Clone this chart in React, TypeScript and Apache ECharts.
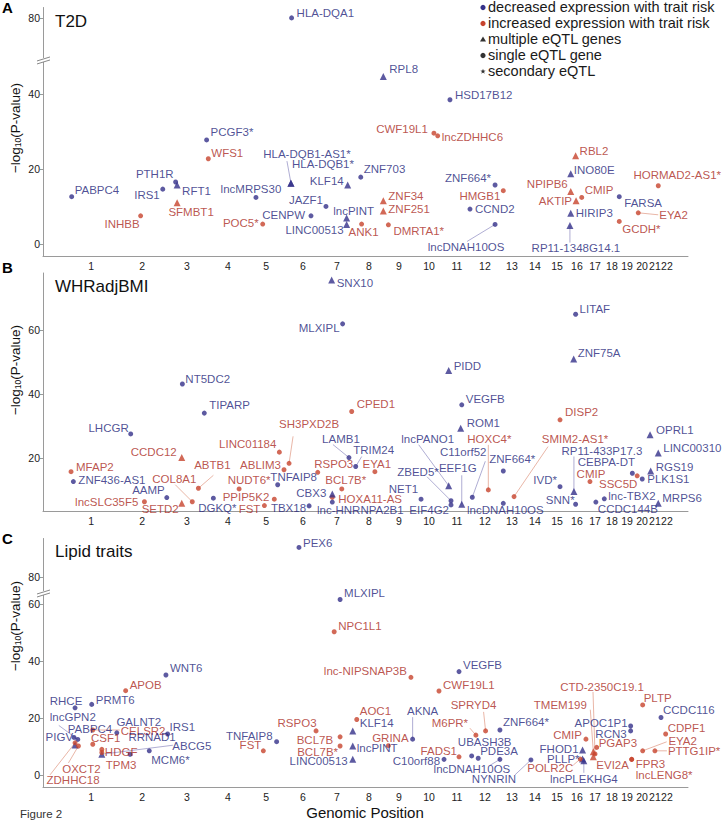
import { useEffect, useRef } from 'react';
import * as echarts from 'echarts';

// [gene, genomic position (cumulative Mb), -log10(P), increased expression (1) / decreased (0), multiple eQTL genes (1) / single (0)]
type Gene = [string, number, number, number, number];
// label placement: [anchor r|l|c, dx, dy, leader-line end dx, dy]
type Place = [string, number, number, number?, number?];

const chromosomes = ['1','2','3','4','5','6','7','8','9','10','11','12','13','14','15','16','17','18','19','20','21','22'];
const chromCenters = [125, 367, 580, 774, 955, 1130, 1291, 1443, 1585, 1728, 1860, 1993, 2121, 2230, 2335, 2429, 2515, 2595, 2667, 2738, 2799, 2856];

const t2dGenes: Gene[] = [
  ['HLA-DQA1', 1076, 80, 0, 0], ['RPL8', 1511, 44.6, 0, 1], ['HSD17B12', 1827, 38.4, 0, 0],
  ['PCGF3*', 673, 27.7, 0, 0], ['WFS1', 681, 22.7, 1, 0], ['CWF19L1', 1751, 29.5, 1, 0],
  ['lncZDHHC6', 1769, 28.8, 1, 0], ['PABPC4', 33, 12.6, 0, 0], ['IRS1', 465, 14.6, 0, 0],
  ['PTH1R', 526, 16.5, 0, 0], ['RFT1', 533, 15.7, 0, 1], ['SFMBT1', 533, 11.0, 1, 1],
  ['INHBB', 360, 7.5, 1, 0], ['lncMRPS30', 907, 12.4, 0, 0], ['POC5*', 939, 5.3, 1, 0],
  ['HLA-DQB1-AS1*', 1073, 16.2, 0, 1], ['HLA-DQB1*', 1073, 16.2, 0, 1], ['CENPW', 1168, 7.5, 0, 0],
  ['JAZF1', 1239, 10.0, 0, 0], ['KLF14', 1342, 15.7, 0, 1], ['lncPINT', 1337, 6.9, 0, 1],
  ['LINC00513', 1337, 5.2, 0, 1], ['ANK1', 1408, 5.3, 1, 0], ['ZNF703', 1404, 17.8, 0, 0],
  ['ZNF34', 1511, 11.5, 1, 1], ['ZNF251', 1511, 8.8, 1, 1], ['DMRTA1*', 1535, 5.1, 1, 0],
  ['ZNF664*', 2041, 15.7, 0, 0], ['HMGB1', 2080, 14.2, 1, 0], ['CCND2', 1922, 9.3, 0, 0],
  ['lncDNAH10OS', 2041, 5.2, 0, 0], ['RBL2', 2423, 23.5, 1, 1], ['INO80E', 2400, 18.7, 0, 1],
  ['NPIPB6', 2400, 14.0, 1, 1], ['AKTIP', 2425, 11.5, 1, 1], ['CMIP', 2452, 12.4, 1, 0],
  ['HIRIP3', 2400, 8.2, 0, 1], ['RP11-1348G14.1', 2396, 4.9, 0, 1], ['FARSA', 2630, 12.6, 0, 0],
  ['HORMAD2-AS1*', 2815, 15.5, 1, 0], ['EYA2', 2720, 8.3, 1, 0], ['GCDH*', 2630, 6.0, 1, 0],
];

const whrGenes: Gene[] = [
  ['SNX10', 1266, 75.6, 0, 1], ['MLXIPL', 1318, 61.9, 0, 0], ['NT5DC2', 558, 43.1, 0, 0],
  ['LITAF', 2423, 64.9, 0, 0], ['ZNF75A', 2414, 50.9, 0, 1], ['PIDD', 1821, 47.3, 0, 1],
  ['TIPARP', 662, 34.0, 0, 0], ['LHCGR', 313, 27.5, 0, 0], ['CPED1', 1361, 34.5, 1, 0],
  ['CCDC12', 555, 20.1, 1, 1], ['SH3PXD2B', 1064, 18.3, 1, 0], ['LINC01184', 1018, 21.8, 1, 0],
  ['ABLIM3', 1040, 16.3, 1, 0], ['TNFAIP8', 1010, 11.6, 0, 0], ['RSPO3', 1200, 15.5, 1, 0],
  ['LAMB1', 1348, 20.1, 0, 0], ['TRIM24', 1380, 17.3, 0, 0], ['EYA1', 1471, 15.7, 1, 0],
  ['BCL7B*', 1314, 10.3, 1, 0], ['HOXA11-AS', 1269, 7.7, 1, 0], ['lnc-HNRNPA2B1', 1269, 6.2, 0, 0],
  ['CBX3', 1269, 8.7, 0, 1], ['TBX18', 1159, 5.0, 0, 0], ['FST', 947, 5.1, 1, 0],
  ['PPIP5K2', 994, 7.1, 1, 0], ['NUDT6*', 827, 10.3, 1, 0], ['DGKQ*', 705, 7.4, 0, 0],
  ['ABTB1', 634, 10.5, 1, 0], ['COL8A1', 605, 6.3, 1, 0], ['SETD2', 555, 5.8, 1, 1],
  ['AAMP', 484, 7.6, 0, 0], ['lncSLC35F5', 378, 6.3, 1, 0], ['MFAP2', 30, 15.7, 1, 0],
  ['ZNF436-AS1', 41, 12.6, 0, 0], ['VEGFB', 1883, 36.6, 0, 0], ['ROM1', 1878, 29.3, 0, 1],
  ['DISP2', 2349, 31.9, 1, 0], ['OPRL1', 2776, 27.2, 0, 1], ['LINC00310', 2815, 21.5, 0, 1],
  ['RGS19', 2779, 15.9, 0, 1], ['PLK1S1', 2739, 13.4, 0, 0], ['CEBPA-DT', 2692, 15.2, 0, 0],
  ['SSC5D', 2715, 14.4, 1, 0], ['CMIP', 2491, 12.6, 1, 0], ['RP11-433P17.3', 2415, 9.5, 0, 1],
  ['IVD*', 2349, 11.0, 0, 0], ['SNN*', 2423, 5.5, 0, 0], ['lnc-TBX2', 2559, 7.2, 0, 0],
  ['CCDC144B', 2519, 6.2, 0, 0], ['MRPS6', 2815, 5.8, 0, 1], ['ZNF664*', 2080, 15.9, 0, 0],
  ['SMIM2-AS1*', 2131, 7.9, 1, 0], ['HOXC4*', 2009, 10.0, 1, 0], ['lncDNAH10OS', 2080, 5.8, 0, 0],
  ['C11orf52', 1933, 7.7, 0, 0], ['EEF1G', 1883, 5.5, 0, 1], ['lncPANO1', 1821, 11.3, 0, 1],
  ['ZBED5*', 1832, 6.6, 0, 0], ['EIF4G2', 1832, 5.3, 0, 0], ['NET1', 1690, 7.1, 0, 0],
];

const lipidGenes: Gene[] = [
  ['PEX6', 1111, 90.4, 0, 0], ['MLXIPL', 1306, 61.6, 0, 0], ['NPC1L1', 1278, 50.3, 1, 0],
  ['WNT6', 480, 35.1, 0, 0], ['APOB', 289, 29.6, 1, 0], ['RHCE', 49, 23.6, 0, 0],
  ['PRMT6', 128, 24.8, 0, 0], ['lncGPN2', 62, 12.5, 0, 0], ['PABPC4', 44, 13.2, 0, 0],
  ['PIGV', 49, 10.5, 0, 1], ['OXCT2', 65, 10.2, 1, 0], ['ZDHHC18', 49, 11.3, 1, 0],
  ['CSF1', 133, 10.8, 1, 0], ['CELSR2', 133, 15.8, 1, 0], ['GALNT2', 247, 14.8, 0, 0],
  ['IRS1', 488, 14.4, 0, 0], ['RRNAD1', 310, 7.3, 0, 0], ['ABCG5', 176, 7.3, 0, 1],
  ['HDGF', 176, 9.0, 1, 0], ['TPM3', 176, 7.9, 1, 0], ['MCM6*', 401, 8.5, 0, 0],
  ['TNFAIP8', 1005, 11.7, 0, 0], ['FST', 942, 8.5, 1, 0], ['RSPO3', 1192, 15.5, 1, 0],
  ['BCL7B', 1306, 13.4, 1, 0], ['BCL7B*', 1306, 10.2, 1, 0], ['LINC00513', 1366, 5.5, 0, 1],
  ['lncPINT', 1366, 10.2, 0, 1], ['KLF14', 1366, 15.5, 0, 1], ['AOC1', 1385, 19.5, 1, 0],
  ['lnc-NIPSNAP3B', 1642, 34.3, 1, 0], ['VEGFB', 1870, 36.3, 0, 0], ['CWF19L1', 1775, 29.5, 1, 0],
  ['AKNA', 1650, 12.6, 0, 0], ['GRINA', 1535, 10.3, 1, 0], ['C10orf88', 1799, 5.5, 0, 0],
  ['FADS1', 1870, 6.4, 1, 0], ['M6PR*', 1950, 14.0, 1, 0], ['SPRYD4', 1996, 15.5, 1, 0],
  ['ZNF664*', 2064, 15.8, 0, 0], ['UBASH3B', 1930, 6.7, 0, 0], ['PDE3A', 1961, 5.9, 0, 0],
  ['lncDNAH10OS', 2064, 5.5, 0, 0], ['NYNRIN', 2211, 5.3, 0, 0], ['CMIP', 2472, 12.6, 1, 0],
  ['TMEM199', 2507, 8.2, 1, 1], ['CTD-2350C19.1', 2515, 7.4, 1, 0], ['PGAP3', 2523, 9.7, 1, 0],
  ['EVI2A', 2507, 6.4, 1, 1], ['FHOD1', 2456, 8.8, 0, 1], ['PLLP*', 2456, 5.6, 0, 1],
  ['POLR2C', 2445, 5.6, 1, 0], ['lncPLEKHG4', 2462, 5.0, 0, 1], ['APOC1P1', 2684, 17.2, 0, 0],
  ['RCN3', 2684, 15.5, 0, 0], ['PLTP', 2741, 24.6, 1, 0], ['CCDC116', 2828, 20.2, 0, 0],
  ['CDPF1', 2850, 14.4, 1, 0], ['EYA2', 2741, 8.5, 1, 0], ['PTTG1IP*', 2799, 8.5, 1, 0],
  ['FPR3', 2689, 5.5, 1, 0], ['lncLENG8*', 2689, 5.5, 1, 0],
];

const t2dTicks = [0, 20, 40, 80];
const whrTicks = [20, 40, 60];
const lipidTicks = [0, 20, 40, 60, 80];

const t2dPlace: Record<string, Place> = {
  'HLA-DQA1': ['r', 5, -5], 'RPL8': ['r', 6, -7], 'HSD17B12': ['r', 5, -5], 'PCGF3*': ['r', 4, -8],
  'WFS1': ['r', 3, -6], 'CWF19L1': ['l', 6, -4], 'lncZDHHC6': ['r', 4, 1], 'PABPC4': ['r', 3, -7],
  'IRS1': ['l', 3, 6], 'PTH1R': ['l', 2, -8], 'RFT1': ['r', 5, 6], 'SFMBT1': ['c', 14, 9],
  'INHBB': ['l', 1, 8], 'lncMRPS30': ['c', -5, -8], 'POC5*': ['l', 4, -1],
  'HLA-DQB1-AS1*': ['c', 16, -29, -4, -22], 'HLA-DQB1*': ['r', 1, -19], 'CENPW': ['l', 6, -1],
  'JAZF1': ['l', 3, -6], 'KLF14': ['l', 4, -4], 'ZNF703': ['r', 3, -8], 'lncPINT': ['c', 7, -7],
  'LINC00513': ['l', 3, 6], 'ANK1': ['c', 2, 8], 'ZNF34': ['r', 5, -5], 'ZNF251': ['r', 5, -2],
  'DMRTA1*': ['r', 5, 6], 'ZNF664*': ['l', 4, -7], 'HMGB1': ['l', 3, 5], 'CCND2': ['r', 5, 0],
  'lncDNAH10OS': ['c', -29, 23, -28, 17], 'RBL2': ['r', 4, -5], 'INO80E': ['r', 3, -4],
  'NPIPB6': ['l', 3, -7], 'AKTIP': ['l', 4, 0], 'CMIP': ['r', 3, -7], 'HIRIP3': ['r', 5, 0],
  'RP11-1348G14.1': ['c', 6, 22, 0, 17], 'FARSA': ['r', 5, 6], 'HORMAD2-AS1*': ['c', 19, -11],
  'EYA2': ['r', 21, 2, 20, 2], 'GCDH*': ['r', 3, 8],
};

const whrPlace: Record<string, Place> = {
  'SNX10': ['r', 5, 3], 'MLXIPL': ['l', 3, 4], 'NT5DC2': ['r', 3, -5], 'LITAF': ['r', 4, -5],
  'ZNF75A': ['r', 4, -6], 'PIDD': ['r', 5, -5], 'TIPARP': ['r', 5, -8], 'LHCGR': ['l', 2, -6],
  'CPED1': ['r', 5, -8], 'CCDC12': ['l', 5, -6], 'SH3PXD2B': ['c', 20, -39, 4, -27],
  'LINC01184': ['l', 3, -8], 'ABLIM3': ['l', 3, -5], 'TNFAIP8': ['c', 16, -8], 'RSPO3': ['c', 16, -8],
  'LAMB1': ['c', -8, -19, -16, -13], 'TRIM24': ['c', 18, -17, 6, -10], 'EYA1': ['c', 2, -8],
  'BCL7B*': ['c', 4, -9], 'HOXA11-AS': ['r', 6, 2], 'lnc-HNRNPA2B1': ['c', 28, 8], 'CBX3': ['l', 6, -1],
  'TBX18': ['l', 3, 2], 'FST': ['l', 4, 3], 'PPIP5K2': ['l', 5, -2], 'NUDT6*': ['c', 10, -9],
  'DGKQ*': ['c', 4, 10], 'ABTB1': ['c', 14, -23, 15, -13], 'COL8A1': ['c', -18, -23, -17, -17],
  'SETD2': ['l', 3, 6], 'AAMP': ['l', 2, -8], 'lncSLC35F5': ['l', 6, 0], 'MFAP2': ['r', 5, -5],
  'ZNF436-AS1': ['r', 5, -2], 'VEGFB': ['r', 4, -6], 'ROM1': ['r', 6, -5], 'DISP2': ['r', 5, -8],
  'OPRL1': ['r', 6, -5], 'LINC00310': ['r', 5, -5], 'RGS19': ['r', 5, -4], 'PLK1S1': ['r', 5, 0],
  'CEBPA-DT': ['c', -26, -11], 'SSC5D': ['c', -19, 8], 'CMIP': ['c', 1, -8],
  'RP11-433P17.3': ['c', 28, -40, 0, -35], 'IVD*': ['l', 3, -7], 'SNN*': ['l', 1, -4],
  'lnc-TBX2': ['r', 4, -3], 'CCDC144B': ['c', 32, 7], 'MRPS6': ['r', 4, -5], 'ZNF664*': ['c', 9, -12],
  'SMIM2-AS1*': ['c', 61, -58, 34, -50], 'HOXC4*': ['c', 1, -51, 0, -45], 'lncDNAH10OS': ['c', 2, 7],
  'C11orf52': ['c', -9, -45, 13, -36], 'EEF1G': ['c', -4, -36, 0, -29], 'lncPANO1': ['c', -21, -47, -30, -41],
  'ZBED5*': ['c', -33, -29, -24, -24], 'EIF4G2': ['l', 2, 5], 'NET1': ['l', 3, -10],
};

const lipidPlace: Record<string, Place> = {
  'PEX6': ['r', 4, -4], 'MLXIPL': ['r', 4, -7], 'NPC1L1': ['r', 4, -6], 'WNT6': ['r', 4, -7],
  'APOB': ['r', 4, -6], 'RHCE': ['c', -9, -7], 'PRMT6': ['r', 4, -4], 'lncGPN2': ['c', -5, -22, -19, -14],
  'PABPC4': ['c', 16, -8], 'PIGV': ['l', 2, -8], 'OXCT2': ['c', 3, 23, -10, 17],
  'ZDHHC18': ['c', -2, 37, -25, 32], 'CSF1': ['c', 13, -6], 'CELSR2': ['r', 28, 1, 27, 0],
  'GALNT2': ['c', 22, -11], 'IRS1': ['r', 2, -7], 'RRNAD1': ['c', 22, -17], 'ABCG5': ['c', 90, -8, 71, -9],
  'HDGF': ['r', 3, 3], 'TPM3': ['r', 4, 12], 'MCM6*': ['r', 2, 9], 'TNFAIP8': ['l', 4, -6],
  'FST': ['l', 2, -6], 'RSPO3': ['c', -19, -8], 'BCL7B': ['l', 7, 3], 'BCL7B*': ['l', 2, 6],
  'LINC00513': ['l', 5, 2], 'lncPINT': ['r', 4, 2], 'KLF14': ['r', 7, -8], 'AOC1': ['r', 3, -8],
  'lnc-NIPSNAP3B': ['l', 4, -6], 'VEGFB': ['r', 4, -7], 'CWF19L1': ['r', 4, -6],
  'AKNA': ['c', 10, -28, 0, -22], 'GRINA': ['c', 2, -8], 'C10orf88': ['l', 4, 2], 'FADS1': ['l', 2, -6],
  'M6PR*': ['c', -26, -12, -6, -7], 'SPRYD4': ['c', -12, -26, -2, -19], 'ZNF664*': ['r', 3, -8],
  'UBASH3B': ['c', 13, -14], 'PDE3A': ['r', 2, -7], 'lncDNAH10OS': ['c', -28, 10, -10, 6],
  'NYNRIN': ['c', -37, 19, -16, 15], 'CMIP': ['l', 4, -4], 'TMEM199': ['c', -33, -47, -3, -42],
  'CTD-2350C19.1': ['c', 7, -67, -2, -62], 'PGAP3': ['r', 2, -4], 'EVI2A': ['r', 3, 8],
  'FHOD1': ['l', 4, -1], 'PLLP*': ['l', 3, 0], 'POLR2C': ['c', -30, 9, -7, 6],
  'lncPLEKHG4': ['c', 0, 18, 0, 12], 'APOC1P1': ['l', 3, -3], 'RCN3': ['l', 4, 3], 'PLTP': ['r', 1, -7],
  'CCDC116': ['r', 2, -7], 'CDPF1': ['r', 2, -6], 'EYA2': ['c', 40, -10, 24, -9],
  'PTTG1IP*': ['r', 13, 0, 12, 0], 'FPR3': ['r', 4, 5], 'lncLENG8*': ['r', 4, 16],
};

const FONT = '"Liberation Sans", Arial, Helvetica, sans-serif';
const BLUE = '#34318a';
const RED = '#c7432d';
const BLUE_T = '#231f7a';
const RED_T = '#aa2a22';
const AXIS = '#9a9a9a';

const X_MIN = -103;
const X_MAX = 2956;
const GRID_LEFT = 43;
const GRID_RIGHT = 38;

interface PanelCfg {
  genes: Gene[];
  place: Record<string, Place>;
  top: number;
  height: number;
  min: number;
  max: number;
  ticks: number[];
  brk?: [number, number];
}

const panels: PanelCfg[] = [
  { genes: t2dGenes, place: t2dPlace, top: 7, height: 249, min: -3.2, max: 82.9, ticks: t2dTicks, brk: [49, 68.8] },
  { genes: whrGenes, place: whrPlace, top: 273, height: 238, min: 3.4, max: 77.8, ticks: whrTicks },
  { genes: lipidGenes, place: lipidPlace, top: 538, height: 249, min: -4.2, max: 93.7, ticks: lipidTicks, brk: [63.9, 74.4] },
];

function nearestChrom(v: number): string {
  let best = 0;
  for (let i = 1; i < chromCenters.length; i++) {
    if (Math.abs(chromCenters[i] - v) < Math.abs(chromCenters[best] - v)) best = i;
  }
  return chromosomes[best];
}

function buildOption() {
  const grids: any[] = [];
  const xAxes: any[] = [];
  const yAxes: any[] = [];
  const series: any[] = [];
  const graphics: any[] = [];

  panels.forEach((p, i) => {
    grids.push({ left: GRID_LEFT, right: GRID_RIGHT, top: p.top, height: p.height, outerBoundsMode: 'none', containLabel: false });
    xAxes.push({
      type: 'value', gridIndex: i, min: X_MIN, max: X_MAX,
      axisLine: { show: true, onZero: false, lineStyle: { color: AXIS, width: 1 } },
      axisTick: { show: false },
      splitLine: { show: false },
      axisLabel: {
        customValues: chromCenters,
        formatter: (v: number) => nearestChrom(v),
        fontSize: 10.5, color: '#222', margin: 4, fontFamily: FONT,
      },
    });
    const y: any = {
      type: 'value', gridIndex: i, min: p.min, max: p.max,
      axisLine: { show: true, onZero: false, lineStyle: { color: AXIS, width: 1 } },
      axisTick: { show: true, length: 3, customValues: p.ticks, lineStyle: { color: AXIS } },
      axisLabel: { customValues: p.ticks, fontSize: 10.5, color: '#222', margin: 3, fontFamily: FONT },
      splitLine: { show: false },
    };
    if (p.brk) {
      y.breaks = [{ start: p.brk[0], end: p.brk[1], gap: 0 }];
      y.breakArea = { show: false };
    }
    yAxes.push(y);

    const data = p.genes.map(([name, x, v, inc, multi]) => {
      const pl = p.place[name] || ['r', 4, 0];
      const anchor = pl[0];
      const align = anchor === 'r' ? 'left' : anchor === 'l' ? 'right' : 'center';
      const offX = anchor === 'l' ? -pl[1] : pl[1];
      return {
        name,
        value: [x, v],
        symbol: multi ? 'triangle' : 'circle',
        symbolSize: multi ? 7 : 5,
        itemStyle: { color: inc ? RED : BLUE },
        label: {
          show: true, position: 'inside', align, verticalAlign: 'middle',
          offset: [offX, pl[2]], color: inc ? RED_T : BLUE_T,
        },
      };
    });
    series.push({
      type: 'scatter', xAxisIndex: i, yAxisIndex: i, z: 3, silent: true,
      data,
      label: { formatter: '{b}', fontSize: 11.5, fontFamily: FONT },
    });

    const leaders = p.genes
      .filter(([name]) => p.place[name] && p.place[name].length > 3)
      .map(([name, x, v, inc]) => [x, v, p.place[name][3] as number, p.place[name][4] as number, inc]);
    series.push({
      type: 'custom', xAxisIndex: i, yAxisIndex: i, z: 2, silent: true,
      data: leaders,
      renderItem: (_params: any, api: any) => {
        const c = api.coord([api.value(0), api.value(1)]);
        return {
          type: 'line',
          shape: { x1: c[0], y1: c[1], x2: c[0] + api.value(2), y2: c[1] + api.value(3) },
          style: { stroke: api.value(4) ? '#e3a391' : '#9b98c8', lineWidth: 0.8 },
        };
      },
    });

    if (p.brk) {
      const span = p.max - p.min - (p.brk[1] - p.brk[0]);
      const scale = p.height / span;
      const yb = p.top + (p.max - p.brk[1]) * scale;
      graphics.push(
        { type: 'rect', z: 50, shape: { x: GRID_LEFT - 2, y: yb - 2, width: 4, height: 4 }, style: { fill: '#fff' } },
        { type: 'line', z: 51, shape: { x1: GRID_LEFT - 6, y1: yb + 1, x2: GRID_LEFT + 7, y2: yb - 3 }, style: { stroke: '#888', lineWidth: 1 } },
        { type: 'line', z: 51, shape: { x1: GRID_LEFT - 6, y1: yb + 4, x2: GRID_LEFT + 7, y2: yb }, style: { stroke: '#888', lineWidth: 1 } },
      );
    }
  });

  // panel letters and titles
  const letters: [string, number][] = [['A', 7], ['B', 267], ['C', 538]];
  letters.forEach(([t, yy]) => graphics.push({
    type: 'text', x: 2, y: yy, style: { text: t, fontSize: 15, fontWeight: 'bold', fill: '#000', fontFamily: FONT, verticalAlign: 'middle' },
  }));
  const titles: [string, number][] = [['T2D', 21], ['WHRadjBMI', 286], ['Lipid traits', 551]];
  titles.forEach(([t, yy]) => graphics.push({
    type: 'text', x: 55, y: yy, style: { text: t, fontSize: 17, fill: '#111', fontFamily: FONT, verticalAlign: 'middle' },
  }));
  // y axis names
  [128, 370, 626].forEach((yy) => graphics.push({
    type: 'text', x: 15, y: yy, rotation: Math.PI / 2,
    style: {
      text: '\u2212log{s|10}(P-value)', fontSize: 13.5, fill: '#111', fontFamily: FONT,
      align: 'center', verticalAlign: 'middle',
      rich: { s: { fontSize: 8.5, fontFamily: FONT, fill: '#111', verticalAlign: 'bottom', padding: [4, 0, 0, 0] } },
    },
  }));
  graphics.push({
    type: 'text', x: 365, y: 812, style: { text: 'Genomic Position', fontSize: 15, fill: '#111', fontFamily: FONT, align: 'center', verticalAlign: 'middle' },
  });
  graphics.push({
    type: 'text', x: 20, y: 814, style: { text: 'Figure 2', fontSize: 11.5, fill: '#333', fontFamily: FONT, verticalAlign: 'middle' },
  });

  // legend
  const lx = 483;
  const legendRows: [string, string, string, number][] = [
    ['decreased expression with trait risk', 'circle', BLUE, 7],
    ['increased expression with trait risk', 'circle', RED, 23],
    ['multiple eQTL genes', 'triangle', '#333', 39],
    ['single eQTL gene', 'circle', '#333', 55],
    ['secondary eQTL', 'star', '#333', 71],
  ];
  legendRows.forEach(([t, shape, col, yy]) => {
    if (shape === 'circle') {
      graphics.push({ type: 'circle', shape: { cx: lx, cy: yy + 0.5, r: 2.6 }, style: { fill: col } });
    } else if (shape === 'triangle') {
      graphics.push({ type: 'polygon', shape: { points: [[lx - 3, yy + 2.5], [lx + 3, yy + 2.5], [lx, yy - 2.5]] }, style: { fill: col } });
    } else {
      const pts: number[][] = [];
      for (let k = 0; k < 10; k++) {
        const a = -Math.PI / 2 + (k * Math.PI) / 5;
        const r = k % 2 === 0 ? 2.8 : 1.1;
        pts.push([lx + r * Math.cos(a), yy + 0.5 + r * Math.sin(a)]);
      }
      graphics.push({ type: 'polygon', shape: { points: pts }, style: { fill: col } });
    }
    graphics.push({
      type: 'text', x: lx + 5, y: yy, style: { text: t, fontSize: 14.5, fill: '#1a1a1a', fontFamily: FONT, verticalAlign: 'middle' },
    });
  });

  return {
    animation: false,
    backgroundColor: '#fff',
    textStyle: { fontFamily: FONT },
    grid: grids,
    xAxis: xAxes,
    yAxis: yAxes,
    series,
    graphic: graphics,
  };
}

export default function App() {
  const ref = useRef<HTMLDivElement>(null);
  useEffect(() => {
    if (!ref.current) return;
    const chart = echarts.init(ref.current, undefined, { renderer: 'svg' });
    chart.setOption(buildOption() as any);
    return () => chart.dispose();
  }, []);
  return <div ref={ref} style={{ position: 'absolute', left: 0, top: 0, width: 726, height: 822, background: '#fff' }} />;
}
